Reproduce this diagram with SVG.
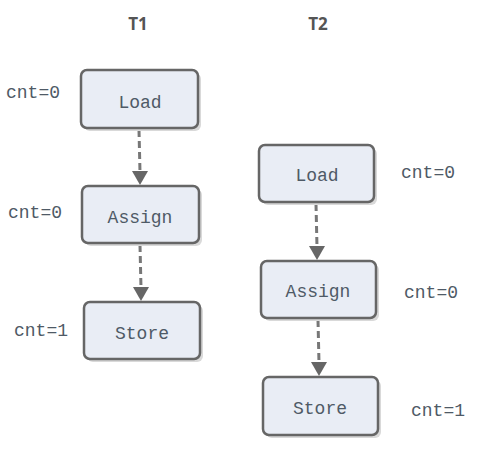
<svg xmlns="http://www.w3.org/2000/svg" width="482" height="451" viewBox="0 0 482 451">
<style>
.box{fill:#e9edf5;stroke:#666;stroke-width:2.5}
.sh{fill:#d9d9d9}
.t{font-family:"Liberation Mono","DejaVu Sans Mono",monospace;font-size:18px;fill:#4f5a66;text-anchor:middle}
.h{font-family:"Open Sans","Liberation Sans",sans-serif;font-size:17px;font-weight:bold;fill:#555;text-anchor:middle}
.c{stroke:#777;stroke-width:3;stroke-dasharray:7,4;fill:none}
</style>
<defs>
<marker id="ah" viewBox="0 0 10 10" refX="9" refY="5" markerWidth="5" markerHeight="5" orient="auto" markerUnits="userSpaceOnUse">
<path d="M0,0 L10,5 L0,10 z" fill="#666"/>
</marker>
</defs>
<rect width="482" height="451" fill="#fff"/>
<text class="h" x="138" y="30">T1</text>
<text class="h" x="318" y="30">T2</text>
<g id="connectors">
<path class="c" d="M139,130 L140,172"/><path d="M132,171 L148,171 L140,185 z" fill="#666"/>
<path class="c" d="M140,245 L141,288"/><path d="M133,287 L149,287 L141,301 z" fill="#666"/>
<path class="c" d="M316,204 L317,247"/><path d="M309,246 L325,246 L317,260 z" fill="#666"/>
<path class="c" d="M318,320 L319,363"/><path d="M311,362 L327,362 L319,376 z" fill="#666"/>
</g>
<g id="t1-load"><rect class="sh" x="84" y="73" width="117" height="58" rx="6"/><rect class="box" x="81" y="70" width="117" height="58" rx="6"/><text class="t" x="140" y="108">Load</text></g>
<g id="t1-assign"><rect class="sh" x="85" y="189" width="117" height="57" rx="6"/><rect class="box" x="82" y="186" width="117" height="57" rx="6"/><text class="t" x="140" y="223">Assign</text></g>
<g id="t1-store"><rect class="sh" x="87" y="305" width="116" height="57" rx="6"/><rect class="box" x="84" y="302" width="116" height="57" rx="6"/><text class="t" x="142" y="339">Store</text></g>
<g id="t2-load"><rect class="sh" x="262" y="148" width="115" height="57" rx="6"/><rect class="box" x="259" y="145" width="115" height="57" rx="6"/><text class="t" x="317" y="181">Load</text></g>
<g id="t2-assign"><rect class="sh" x="264" y="264" width="115" height="57" rx="6"/><rect class="box" x="261" y="261" width="115" height="57" rx="6"/><text class="t" x="318" y="297">Assign</text></g>
<g id="t2-store"><rect class="sh" x="266" y="380" width="115" height="58" rx="6"/><rect class="box" x="263" y="377" width="115" height="58" rx="6"/><text class="t" x="320" y="414">Store</text></g>
<text class="t" x="33" y="98">cnt=0</text>
<text class="t" x="35" y="218">cnt=0</text>
<text class="t" x="41" y="336">cnt=1</text>
<text class="t" x="428" y="178">cnt=0</text>
<text class="t" x="431" y="298">cnt=0</text>
<text class="t" x="438" y="416">cnt=1</text>
</svg>
